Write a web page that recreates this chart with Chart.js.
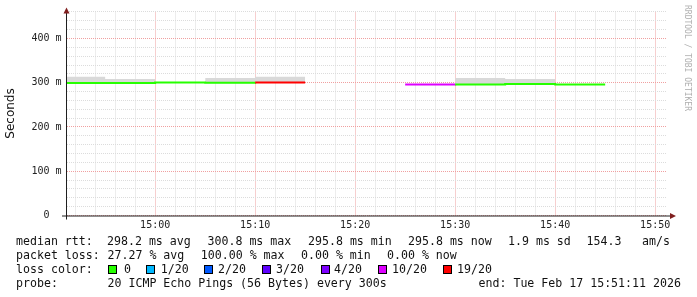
<!DOCTYPE html>
<html>
<head>
<meta charset="utf-8">
<script src="https://cdn.jsdelivr.net/npm/chart.js@4.4.1/dist/chart.umd.min.js"></script>
<style>
body { margin: 0; background: #fff; }
#wrap { position: relative; width: 697px; height: 297px; overflow: hidden;
        font-family: "DejaVu Sans Mono", monospace; font-size: 11.6px; color: #111; }
#chart { position: absolute; left: 0; top: 0; }
.t { position: absolute; white-space: pre; line-height: 14px; }
.sw { position: absolute; width: 7px; height: 7px; border: 1px solid #000; }
#credit { position: absolute; left: 692px; top: 5px; transform-origin: 0 0; transform: rotate(90deg);
          font-size: 8px; line-height: 10px; color: #b0b0b0; white-space: pre; }
</style>
</head>
<body>
<div id="wrap">
  <canvas id="chart" width="697" height="297"></canvas>
  <div id="legend"></div>
  <div id="credit">RRDTOOL / TOBI OETIKER</div>
</div>
<script>
// one sample every 5 minutes, value holds until the next sample
const times      = ["14:50", "14:55", "15:00", "15:05", "15:10", "15:15", "15:20", "15:25", "15:30", "15:35", "15:40"];
const median     = [299.6, 299.6, 300.8, 299.8, 300.4, null, null, 295.8, 296.0, 297.4, 295.8];
const lossPings  = [0, 0, 0, 0, 19, 20, 20, 10, 0, 0, 0];
const smokeLow   = [298.5, 298.5, null, 299.0, 299.5, null, null, null, 295.0, 296.5, null];
const smokeHigh  = [313.4, 308.2, null, 310.5, 313.4, null, null, null, 311.0, 308.2, null];

const lossSteps  = [0, 1, 2, 3, 4, 10, 19];
const lossColors = ["#26ff00", "#00b8ff", "#0059ff", "#5e00ff", "#7e00ff", "#dd00ff", "#ff0000"];
const lossLabels = ["0", "1/20", "2/20", "3/20", "4/20", "10/20", "19/20"];

const yMajor = [0, 100, 200, 300, 400];
const xStart = "14:51:11";
const xEnd = "15:51:11";
const stepMin = 5;

function toMin(s) {
    const p = s.split(':').map(Number);
    return p[0] * 60 + p[1] + (p[2] || 0) / 60;
}
function fmtTime(m) {
    const h = Math.floor(m / 60), mm = Math.round(m % 60);
    return h + ':' + String(mm).padStart(2, '0');
}
function colorFor(loss) {
    let c = lossColors[0];
    lossSteps.forEach((s, i) => { if (loss >= s) c = lossColors[i]; });
    return c;
}

// turn every sample into a flat piece from its start to its end
function buildSteps(values) {
    const pts = [], idx = [];
    times.forEach((t, i) => {
        const x = toMin(t);
        if (values[i] == null) { pts.push({ x: x, y: null }); idx.push(i); return; }
        pts.push({ x: x, y: values[i] }, { x: x + stepMin, y: values[i] });
        idx.push(i, i);
    });
    return { pts, idx };
}

const med = buildSteps(median);
const lo = buildSteps(smokeLow);
const hi = buildSteps(smokeHigh);

const xMin = toMin(xStart), xMax = toMin(xEnd);
const xTickVals = [];
for (let v = Math.ceil(xMin / 2) * 2; v <= xMax; v += 2) xTickVals.push(v);
const yTickVals = [];
for (let v = 0; v <= 460; v += 20) yTickVals.push(v);

const minorGrid = '#dcdcdc';
const majorGrid = '#f0a0a0';

function isMajorX(v) { return Math.abs(v % 10) < 1e-6; }
function isMajorY(v) { return yMajor.indexOf(Math.round(v)) >= 0; }

const axisArrows = {
    id: 'axisArrows',
    afterDraw(chart) {
        const { ctx, chartArea: a } = chart;
        ctx.save();
        ctx.strokeStyle = '#1f1f1f';
        ctx.lineWidth = 1;
        ctx.beginPath();
        ctx.moveTo(a.left - 0.5, a.bottom + 4);
        ctx.lineTo(a.left - 0.5, a.top - 1);
        ctx.moveTo(a.left - 5, a.bottom + 0.5);
        ctx.lineTo(a.right + 4, a.bottom + 0.5);
        ctx.stroke();
        ctx.fillStyle = '#801f1f';
        ctx.beginPath();
        ctx.moveTo(a.left - 0.5, a.top - 4);
        ctx.lineTo(a.left - 3.5, a.top + 2);
        ctx.lineTo(a.left + 2.5, a.top + 2);
        ctx.closePath();
        ctx.fill();
        ctx.beginPath();
        ctx.moveTo(a.right + 9, a.bottom + 0.5);
        ctx.lineTo(a.right + 3, a.bottom - 2.5);
        ctx.lineTo(a.right + 3, a.bottom + 3.5);
        ctx.closePath();
        ctx.fill();
        ctx.restore();
    }
};

new Chart(document.getElementById('chart').getContext('2d'), {
    type: 'line',
    data: {
        datasets: [
            {
                label: 'median',
                data: med.pts,
                borderWidth: 2,
                pointRadius: 0,
                spanGaps: false,
                borderColor: lossColors[0],
                segment: {
                    borderColor: c => colorFor(lossPings[med.idx[c.p0DataIndex]])
                },
                clip: 0
            },
            {
                label: 'smokeLow',
                data: lo.pts,
                borderWidth: 0,
                pointRadius: 0,
                spanGaps: false,
                borderColor: 'rgba(0,0,0,0)',
                clip: 0
            },
            {
                label: 'smokeHigh',
                data: hi.pts,
                borderWidth: 0,
                pointRadius: 0,
                spanGaps: false,
                borderColor: 'rgba(0,0,0,0)',
                backgroundColor: '#d9d9d9',
                fill: '-1',
                clip: 0
            }
        ]
    },
    options: {
        responsive: false,
        animation: false,
        devicePixelRatio: 1,
        layout: { padding: { left: 0, right: 30, top: 11, bottom: 0 } },
        plugins: { legend: { display: false }, tooltip: { enabled: false } },
        scales: {
            x: {
                type: 'linear',
                min: xMin,
                max: xMax,
                bounds: 'data',
                afterBuildTicks: s => { s.ticks = xTickVals.map(v => ({ value: v })); },
                afterFit: s => { s.height = 81.5; },
                grid: {
                    drawTicks: false,
                    color: c => isMajorX(c.tick ? c.tick.value : c.index) ? majorGrid : minorGrid
                },
                border: { display: false, dash: [1, 1] },
                ticks: {
                    autoSkip: false,
                    maxRotation: 0,
                    padding: 3.5,
                    color: '#222',
                    font: { family: 'DejaVu Sans Mono', size: 10 },
                    callback: v => isMajorX(v) ? fmtTime(v) : ''
                }
            },
            y: {
                min: 0,
                max: 461,
                afterBuildTicks: s => { s.ticks = yTickVals.map(v => ({ value: v })); },
                afterFit: s => { s.width = 67; },
                grid: {
                    drawTicks: false,
                    color: c => isMajorY(c.tick ? c.tick.value : -1) ? majorGrid : minorGrid
                },
                border: { display: false, dash: [1, 1] },
                title: {
                    display: true,
                    text: 'Seconds',
                    color: '#111',
                    font: { family: 'DejaVu Sans', size: 12 },
                    padding: { top: 4, bottom: 0 }
                },
                ticks: {
                    autoSkip: false,
                    crossAlign: 'center',
                    padding: 5.5,
                    color: '#222',
                    font: { family: 'DejaVu Sans Mono', size: 10 },
                    callback: v => isMajorY(v) ? (v === 0 ? '0' : v + ' m') : ''
                }
            }
        }
    },
    plugins: [axisArrows]
});

// legend text under the graph
const legend = document.getElementById('legend');
function addText(txt, x, y) {
    const d = document.createElement('div');
    d.className = 't';
    d.textContent = txt;
    d.style.left = x + 'px';
    d.style.top = (y - 7) + 'px';
    legend.appendChild(d);
    return d;
}
const rowMedian = [["median rtt:", 16], ["298.2 ms avg", 107], ["300.8 ms max", 207.5], ["295.8 ms min", 308],
                   ["295.8 ms now", 408], ["1.9 ms sd", 508], ["154.3", 586.5], ["am/s", 642]];
const rowLoss = [["packet loss:", 16], ["27.27 % avg", 107.5], ["100.00 % max", 200.8], ["0.00 % min", 301], ["0.00 % now", 387]];
rowMedian.forEach(r => addText(r[0], r[1], 241));
rowLoss.forEach(r => addText(r[0], r[1], 255));

addText("loss color:", 16, 269);
const swatchX = [108, 145.5, 204, 262, 320.5, 378, 442.5];
const labelX = [124, 160.7, 218, 276, 334, 392, 457];
lossLabels.forEach((l, i) => {
    const s = document.createElement('div');
    s.className = 'sw';
    s.style.left = swatchX[i] + 'px';
    s.style.top = '264.5px';
    s.style.background = lossColors[i];
    legend.appendChild(s);
    addText(l, labelX[i], 269);
});

addText("probe:", 16, 283);
addText("20 ICMP Echo Pings (56 Bytes) every 300s", 107.5, 283);
const endTxt = addText("end: Tue Feb 17 15:51:11 2026", 0, 283);
endTxt.style.left = (680.5 - endTxt.offsetWidth) + 'px';
</script>
</body>
</html>
